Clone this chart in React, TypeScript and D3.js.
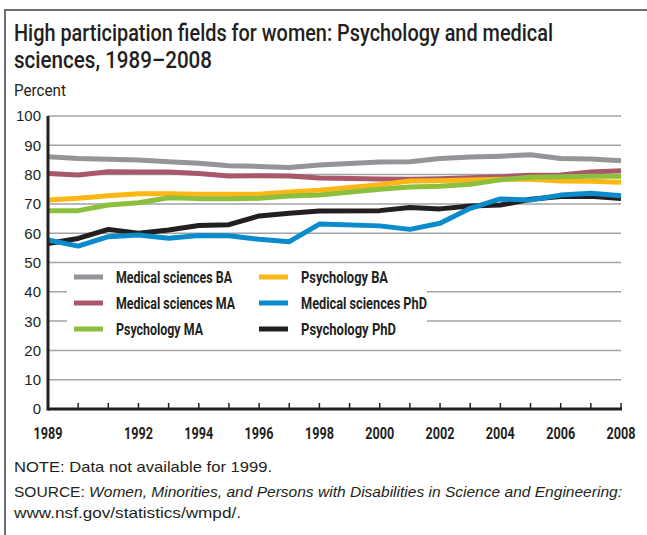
import React from "react";
import * as d3 from "d3";

const years = [1989, 1990, 1991, 1992, 1993, 1994, 1995, 1996, 1997, 1998, 2000, 2001, 2002, 2003, 2004, 2005, 2006, 2007, 2008];
const medBA = [86.1, 85.5, 85.2, 85.0, 84.4, 83.9, 83.0, 82.8, 82.4, 83.3, 84.3, 84.4, 85.5, 86.0, 86.3, 86.8, 85.5, 85.3, 84.7];
const medMA = [80.4, 79.9, 81.0, 80.9, 80.9, 80.4, 79.5, 79.6, 79.5, 78.8, 78.5, 78.4, 78.6, 78.9, 79.3, 79.8, 79.9, 80.9, 81.3];
const psyBA = [71.3, 71.9, 72.8, 73.5, 73.5, 73.3, 73.3, 73.3, 74.1, 74.7, 76.5, 77.8, 77.9, 78.2, 78.4, 78.4, 77.8, 77.7, 77.4];
const psyMA = [67.7, 67.7, 69.6, 70.4, 72.1, 71.8, 71.8, 71.9, 72.7, 73.0, 75.0, 75.8, 76.0, 76.7, 78.2, 79.1, 79.3, 79.4, 79.4];
const medPhD = [57.7, 55.6, 58.8, 59.4, 58.3, 59.2, 59.1, 57.9, 57.1, 63.1, 62.5, 61.3, 63.4, 68.5, 71.7, 71.3, 73.0, 73.6, 72.8];
const psyPhD = [56.5, 58.2, 61.3, 60.0, 61.1, 62.6, 62.9, 65.9, 66.8, 67.6, 67.7, 68.8, 68.3, 69.3, 69.6, 71.6, 72.5, 72.6, 71.8];

const seriesNames = ["Medical sciences BA", "Psychology BA", "Medical sciences MA", "Medical sciences PhD", "Psychology MA", "Psychology PhD"];
const seriesValues = [medBA, psyBA, medMA, medPhD, psyMA, psyPhD];
const seriesColors = ["#939598", "#fdb714", "#a9586c", "#0a8bcb", "#8dbf3e", "#231f20"];
const legendWidths = [116, 87, 119, 126, 87, 95];
// drawing order (back to front)
const drawOrder = [0, 2, 1, 4, 5, 3];

const yTicks = [0, 10, 20, 30, 40, 50, 60, 70, 80, 90, 100];
const xTickLabels = [1989, 1992, 1994, 1996, 1998, 2000, 2002, 2004, 2006, 2008];
const tickYears = d3.range(1990, 2009);

const condensed = "Roboto, 'Liberation Sans', sans-serif";
const plain = "'Liberation Sans', 'Noto Sans', sans-serif";

export default function App() {
  const W = 647, H = 535;
  const x = d3.scaleLinear().domain([1989, 2008]).range([48, 621]);
  const y = d3.scaleLinear().domain([0, 100]).range([409, 116]);
  const line = d3.line<[number, number]>().x(d => x(d[0])).y(d => y(d[1]));

  return (
    <svg width={W} height={H} style={{ position: "absolute", left: 0, top: 0 }}>
      <rect x={0} y={0} width={W} height={H} fill="#fff" />
      {/* frame */}
      <line x1={4} x2={W} y1={10} y2={10} stroke="#6d6e71" strokeWidth={2} />
      <line x1={5} x2={5} y1={10} y2={H} stroke="#6d6e71" strokeWidth={2} />
      {/* title */}
      <text x={14} y={41} fontFamily={condensed} fontWeight={500} fontSize={23} fill="#231f20" textLength={539} lengthAdjust="spacingAndGlyphs">High participation fields for women: Psychology and medical</text>
      <text x={14} y={68} fontFamily={condensed} fontWeight={500} fontSize={23} fill="#231f20" textLength={198} lengthAdjust="spacingAndGlyphs">sciences, 1989–2008</text>
      <text x={14} y={96} fontFamily={condensed} fontSize={16} fill="#231f20" textLength={52} lengthAdjust="spacingAndGlyphs">Percent</text>
      {/* gridlines */}
      {yTicks.filter(t => t > 0).map(t => (
        <line key={t} x1={x(1989)} x2={x(2008)} y1={y(t)} y2={y(t)} stroke="#a1a3a6" strokeWidth={1.5} />
      ))}
      {/* y labels */}
      {yTicks.map(t => (
        <text key={t} x={41} y={y(t)} dy="0.36em" textAnchor="end" fontFamily={plain} fontSize={15} fill="#231f20">{t}</text>
      ))}
      {/* legend box */}
      <rect x={67} y={268} width={360} height={76} fill="#fff" />
      {seriesNames.map((name, i) => {
        const col = i % 2, row = Math.floor(i / 2);
        const lx = col === 0 ? 74 : 259;
        const ly = 277 + row * 26;
        return (
          <g key={name}>
            <line x1={lx} x2={lx + 29} y1={ly} y2={ly} stroke={seriesColors[i]} strokeWidth={5} />
            <text x={lx + 42} y={ly} dy="0.36em" fontFamily={condensed} fontWeight="bold" fontSize={16.5} fill="#231f20" textLength={legendWidths[i]} lengthAdjust="spacingAndGlyphs">{name}</text>
          </g>
        );
      })}
      {/* lines */}
      {drawOrder.map(i => (
        <path key={i} d={line(years.map((yr, j) => [yr, seriesValues[i][j]]) as [number, number][]) || ""} fill="none" stroke={seriesColors[i]} strokeWidth={5} strokeLinejoin="round" />
      ))}
      {/* axes */}
      <line x1={x(1989)} x2={x(1989)} y1={y(100)} y2={y(0) + 1.5} stroke="#231f20" strokeWidth={3} />
      <line x1={x(1989)} x2={x(2008) + 1} y1={y(0)} y2={y(0)} stroke="#231f20" strokeWidth={3} />
      {tickYears.map(t => (
        <line key={t} x1={x(t)} x2={x(t)} y1={y(0)} y2={y(0) - 6} stroke="#231f20" strokeWidth={1.5} />
      ))}
      {xTickLabels.map(t => (
        <text key={t} x={x(t)} y={439} textAnchor="middle" fontFamily={condensed} fontWeight="bold" fontSize={16} fill="#231f20" textLength={29} lengthAdjust="spacingAndGlyphs">{t}</text>
      ))}
      {/* footer */}
      <text x={14} y={472} fontFamily={plain} fontSize={15} fill="#231f20" textLength={258} lengthAdjust="spacingAndGlyphs">NOTE:  Data not available for 1999.</text>
      <text x={14} y={497} fontFamily={plain} fontSize={15} fill="#231f20" textLength={608} lengthAdjust="spacingAndGlyphs">SOURCE:  <tspan fontStyle="italic">Women, Minorities, and Persons with Disabilities in Science and Engineering:</tspan></text>
      <text x={14} y={518} fontFamily={plain} fontSize={15} fill="#231f20" textLength={227} lengthAdjust="spacingAndGlyphs">www.nsf.gov/statistics/wmpd/.</text>
    </svg>
  );
}
